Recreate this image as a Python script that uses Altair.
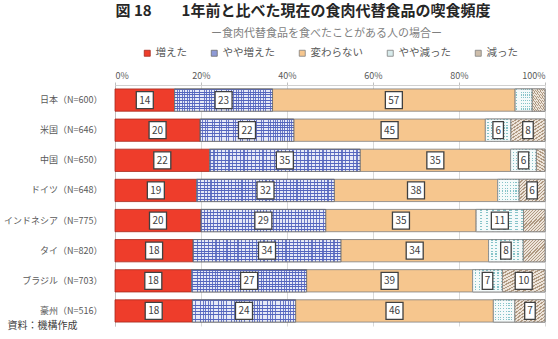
import altair as alt
import pandas as pd

countries = ["日本（N=600）", "米国（N=646）", "中国（N=650）", "ドイツ（N=648）",
             "インドネシア（N=775）", "タイ（N=820）", "ブラジル（N=703）", "豪州（N=516）"]
categories = ["増えた", "やや増えた", "変わらない", "やや減った", "減った"]
inc = [14, 20, 22, 19, 20, 18, 18, 18]
slight_inc = [23, 22, 35, 32, 29, 34, 27, 24]
same = [57, 45, 35, 38, 35, 34, 39, 46]
slight_dec = [4, 6, 6, 5, 11, 8, 7, 5]
dec = [3, 8, 2, 6, 5, 5, 10, 7]
fill_colors = ["#EE3D2B", "#8E9AD6", "#F6C68E", "#D8EBEC", "#CDBDAA"]
stroke_colors = ["#A52A1E", "#6B6B6B", "#7F7F7F", "#7F7F7F", "#7F7F7F"]

series = [inc, slight_inc, same, slight_dec, dec]
rows = []
for ci, cat in enumerate(categories):
    for ri, c in enumerate(countries):
        rows.append({"country": c, "category": cat, "order": ci, "value": series[ci][ri]})
df = pd.DataFrame(rows)

FONT = "Noto Sans CJK JP"


def stripes(n, on_color, off_color, on_frac, direction):
    stops = []
    for i in range(n):
        a = i / n
        b = (i + on_frac) / n
        c = (i + 1) / n
        stops += [alt.GradientStop(offset=a, color=on_color),
                  alt.GradientStop(offset=b, color=on_color),
                  alt.GradientStop(offset=b, color=off_color),
                  alt.GradientStop(offset=c, color=off_color)]
    x1, y1, x2, y2 = direction
    return alt.Gradient(gradient="linear", stops=stops, x1=x1, y1=y1, x2=x2, y2=y2)


H = (0, 0, 1, 0)
V = (0, 0, 0, 1)
D = (0, 0, 1, 1)

base = alt.Chart(df).transform_stack(
    stack="value", groupby=["country"], as_=["v0", "v1"],
    offset="normalize", sort=[alt.SortField("order", "ascending")]
).transform_calculate(mid="(datum.v0 + datum.v1) / 2")

y_enc = alt.Y("country:N", sort=countries,
              scale=alt.Scale(paddingInner=0.26, paddingOuter=0.13),
              axis=alt.Axis(title="資料：機構作成", titleAngle=0, titleX=-108, titleY=240,
                            titleAlign="left", titleBaseline="middle", titleFontSize=10,
                            titleFontWeight="normal", titleColor="#404040", titleFont=FONT,
                            labelFont=FONT, labelFontSize=9, labelColor="#595959",
                            labelPadding=13, ticks=False, domainColor="#BFBFBF"))
y_plain = alt.Y("country:N", sort=countries)

bars = base.mark_bar(strokeWidth=0.8).encode(
    x=alt.X("v0:Q", scale=alt.Scale(domain=[0, 1], nice=False),
            axis=alt.Axis(orient="top", values=[0, 0.2, 0.4, 0.6, 0.8, 1.0], format=".0%",
                          labelFont=FONT, labelFontSize=9, labelColor="#595959",
                          labelPadding=2, tickSize=3, tickColor="#BFBFBF",
                          domainColor="#D0D0D0", gridColor="#D9D9D9",
                          title="ー食肉代替食品を食べたことがある人の場合ー",
                          titleX=211, titleY=-52, titleAlign="center", titleBaseline="middle",
                          titleFont=FONT, titleFontSize=11, titleFontWeight="normal",
                          titleColor="#7F7F7F")),
    x2="v1:Q",
    y=y_enc,
    fill=alt.Fill("category:N", sort=categories,
                  scale=alt.Scale(domain=categories, range=fill_colors),
                  legend=alt.Legend(title=None, orient="none", direction="horizontal",
                                    legendX=27, legendY=-37, symbolType="square",
                                    symbolSize=36, symbolStrokeWidth=0.8, gridAlign="none",
                                    labelFont=FONT, labelFontSize=10.5, labelColor="#595959",
                                    columnPadding=22, labelOffset=3)),
    stroke=alt.Stroke("category:N", sort=categories,
                      scale=alt.Scale(domain=categories, range=stroke_colors), legend=None),
)


def seg(cat):
    return base.transform_filter(f"datum.category == '{cat}'")


def overlay(cat, grad):
    return seg(cat).mark_bar(fill=grad).encode(x="v0:Q", x2="v1:Q", y=y_plain)


def outline(cat, color):
    return seg(cat).mark_bar(fillOpacity=0, stroke=color, strokeWidth=0.8).encode(
        x="v0:Q", x2="v1:Q", y=y_plain)


textures = [
    overlay("やや増えた", stripes(8, "#5566BE", "#E6E9F7", 0.33, V)),
    overlay("やや増えた", stripes(40, "rgba(85,102,190,0.85)", "rgba(85,102,190,0)", 0.33, H)),
    outline("やや増えた", "#6B6B6B"),
    overlay("やや減った", stripes(8, "#86C3C8", "#F4FAFA", 0.4, V)),
    overlay("やや減った", stripes(8, "#F4FAFA", "rgba(244,250,250,0)", 0.6, H)),
    outline("やや減った", "#7F7F7F"),
    overlay("減った", stripes(14, "#B09A82", "#EDE4DA", 0.4, D)),
    outline("減った", "#7F7F7F"),
]

lab = base.transform_filter("datum.value >= 6")

box2 = lab.transform_filter("datum.value >= 10").mark_point(
    shape="square", size=289, filled=True, fill="white", stroke="#404040",
    strokeWidth=1.3, opacity=1
).encode(x="mid:Q", y=y_plain)

box1 = lab.transform_filter("datum.value < 10").mark_point(
    shape="M-0.62,-1H0.62V1H-0.62Z", size=289, filled=True, fill="white", stroke="#404040",
    strokeWidth=1.3, opacity=1
).encode(x="mid:Q", y=y_plain)

txt = lab.mark_text(font=FONT, fontSize=10, color="#404040", baseline="middle", dy=0.5).encode(
    x="mid:Q", y=y_plain, text="value:Q")

chart = alt.layer(bars, *textures, box2, box1, txt).properties(
    width=430, height=241,
    autosize=alt.AutoSizeParams(type="none"),
    padding={"left": 115, "top": 85, "right": 13, "bottom": 13},
    title=alt.TitleParams(text="図 18　　1年前と比べた現在の食肉代替食品の喫食頻度",
                          font=FONT, fontSize=15, fontWeight="bold", color="#262626",
                          anchor="middle", dx=-27, offset=8),
).configure_view(stroke=None)

chart.save("out.html", embed_options={"renderer": "svg", "actions": False})
